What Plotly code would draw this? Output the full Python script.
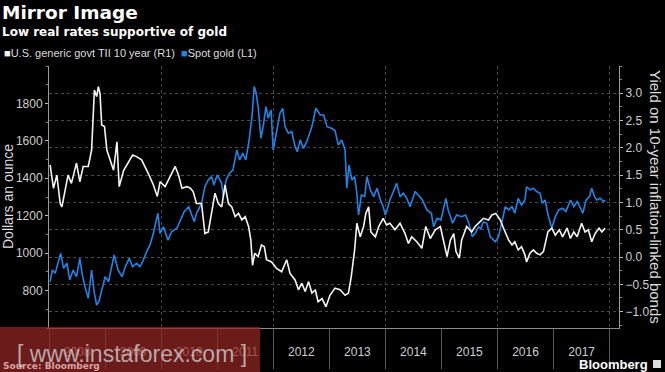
import pandas as pd
import plotly.graph_objects as go

# ---- data (decimal years) ----
gold_t = [2008.02, 2008.06, 2008.11, 2008.17, 2008.21, 2008.26, 2008.32, 2008.37, 2008.43, 2008.49,
          2008.55, 2008.59, 2008.64, 2008.70, 2008.76, 2008.81, 2008.85, 2008.89, 2008.94, 2009.00,
          2009.06, 2009.12, 2009.16, 2009.23, 2009.30, 2009.36, 2009.43, 2009.49, 2009.56, 2009.62,
          2009.68, 2009.74, 2009.80, 2009.86, 2009.94, 2009.98, 2010.04, 2010.12, 2010.19, 2010.28,
          2010.34, 2010.41, 2010.49, 2010.55, 2010.59, 2010.63, 2010.72, 2010.78, 2010.84, 2010.90,
          2010.94, 2011.00, 2011.08, 2011.11, 2011.16, 2011.22, 2011.28, 2011.35, 2011.40, 2011.46,
          2011.51, 2011.57, 2011.62, 2011.66, 2011.69, 2011.73, 2011.78, 2011.82, 2011.87, 2011.91,
          2011.96, 2012.00, 2012.06, 2012.12, 2012.17, 2012.21, 2012.27, 2012.33, 2012.39, 2012.43,
          2012.48, 2012.54, 2012.61, 2012.69, 2012.76, 2012.84, 2012.90, 2012.96, 2013.04, 2013.10,
          2013.16, 2013.22, 2013.28, 2013.31, 2013.35, 2013.40, 2013.45, 2013.49, 2013.52, 2013.57,
          2013.63, 2013.67, 2013.73, 2013.79, 2013.85, 2013.91, 2013.96, 2014.00, 2014.08, 2014.16,
          2014.20, 2014.26, 2014.32, 2014.38, 2014.44, 2014.53, 2014.60, 2014.66, 2014.74, 2014.82,
          2014.86, 2014.92, 2014.99, 2015.08, 2015.12, 2015.20, 2015.27, 2015.36, 2015.43, 2015.49,
          2015.55, 2015.61, 2015.66, 2015.70, 2015.75, 2015.81, 2015.87, 2015.96, 2016.02, 2016.08,
          2016.14, 2016.20, 2016.26, 2016.31, 2016.37, 2016.43, 2016.49, 2016.52, 2016.58, 2016.64,
          2016.70, 2016.76, 2016.80, 2016.85, 2016.91, 2016.97, 2017.03, 2017.09, 2017.16, 2017.22,
          2017.30, 2017.36, 2017.42, 2017.48, 2017.52, 2017.58, 2017.64, 2017.68, 2017.73, 2017.77,
          2017.83, 2017.89, 2017.92]
gold_v = [847, 910, 892, 963, 999, 919, 946, 857, 910, 874,
          972, 892, 821, 759, 910, 785, 723, 741, 803, 874,
          847, 928, 990, 910, 874, 928, 972, 928, 946, 928,
          963, 1008, 1044, 1106, 1213, 1106, 1141, 1070, 1115, 1133,
          1177, 1222, 1248, 1195, 1168, 1213, 1266, 1355, 1391, 1409,
          1364, 1418, 1373, 1302, 1391, 1427, 1444, 1551, 1498, 1534,
          1498, 1605, 1729, 1890, 1863, 1783, 1614, 1676, 1783, 1721,
          1765, 1551, 1641, 1748, 1774, 1676, 1641, 1650, 1569, 1542,
          1605, 1560, 1605, 1676, 1774, 1738, 1738, 1676, 1667, 1655,
          1578, 1605, 1551, 1347, 1471, 1391, 1409, 1320, 1204, 1311,
          1302, 1409, 1338, 1302, 1347, 1284, 1248, 1204, 1284, 1338,
          1373, 1302, 1320, 1293, 1248, 1329, 1302, 1284, 1231, 1213,
          1141, 1186, 1177, 1293, 1231, 1160, 1204, 1195, 1204, 1160,
          1088, 1110, 1141, 1130, 1168, 1160, 1088, 1061, 1088, 1160,
          1248, 1231, 1248, 1213, 1293, 1257, 1284, 1355, 1338, 1347,
          1329, 1320, 1266, 1284, 1195, 1133, 1195, 1231, 1240, 1222,
          1284, 1248, 1275, 1240, 1213, 1284, 1302, 1347, 1302, 1284,
          1293, 1275, 1284]

tips_t = [2008.02, 2008.08, 2008.14, 2008.20, 2008.23, 2008.29, 2008.34, 2008.40, 2008.49, 2008.55,
          2008.61, 2008.70, 2008.76, 2008.81, 2008.85, 2008.88, 2008.91, 2008.94, 2008.99, 2009.03,
          2009.09, 2009.15, 2009.21, 2009.25, 2009.33, 2009.41, 2009.49, 2009.56, 2009.65, 2009.77,
          2009.86, 2009.93, 2009.98, 2010.07, 2010.16, 2010.25, 2010.31, 2010.37, 2010.46, 2010.52,
          2010.57, 2010.63, 2010.72, 2010.78, 2010.84, 2010.90, 2010.96, 2011.02, 2011.08, 2011.14,
          2011.20, 2011.26, 2011.32, 2011.38, 2011.44, 2011.50, 2011.56, 2011.60, 2011.63, 2011.67,
          2011.73, 2011.79, 2011.84, 2011.88, 2011.97, 2012.06, 2012.15, 2012.24, 2012.30, 2012.39,
          2012.45, 2012.51, 2012.57, 2012.63, 2012.69, 2012.75, 2012.80, 2012.87, 2012.94, 2013.01,
          2013.10, 2013.19, 2013.28, 2013.34, 2013.39, 2013.45, 2013.49, 2013.55, 2013.61, 2013.65,
          2013.70, 2013.74, 2013.82, 2013.88, 2013.96, 2014.02, 2014.08, 2014.17, 2014.26, 2014.35,
          2014.41, 2014.47, 2014.56, 2014.65, 2014.72, 2014.80, 2014.89, 2014.98, 2015.04, 2015.10,
          2015.16, 2015.22, 2015.26, 2015.32, 2015.36, 2015.45, 2015.54, 2015.60, 2015.69, 2015.75,
          2015.84, 2015.90, 2015.97, 2016.05, 2016.12, 2016.20, 2016.26, 2016.31, 2016.37, 2016.43,
          2016.49, 2016.52, 2016.58, 2016.64, 2016.70, 2016.76, 2016.82, 2016.86, 2016.90, 2016.97,
          2017.03, 2017.10, 2017.16, 2017.24, 2017.30, 2017.36, 2017.42, 2017.50, 2017.56, 2017.62,
          2017.68, 2017.74, 2017.81, 2017.86, 2017.92]
tips_v = [1.69, 1.26, 1.50, 0.98, 0.92, 1.23, 1.50, 1.35, 1.72, 1.38,
          1.66, 1.66, 1.96, 3.06, 2.94, 3.12, 3.00, 2.42, 2.39, 1.96,
          1.78, 1.59, 2.11, 1.29, 1.59, 1.72, 1.87, 1.84, 1.78, 1.53,
          1.32, 1.11, 1.38, 1.29, 1.47, 1.66, 1.50, 1.26, 1.29, 1.26,
          1.20, 0.98, 0.98, 0.43, 0.46, 0.80, 1.17, 0.98, 0.92, 1.32,
          0.98, 0.92, 0.74, 0.80, 0.68, 0.74, 0.56, 0.31, -0.15, 0.07,
          0.01, 0.22, 0.19, -0.05, -0.09, -0.21, -0.27, -0.05, -0.30, -0.42,
          -0.60, -0.48, -0.63, -0.45, -0.66, -0.60, -0.82, -0.76, -0.91, -0.70,
          -0.57, -0.60, -0.70, -0.66, -0.36, 0.13, 0.62, 0.37, 0.56, 0.80,
          0.92, 0.46, 0.37, 0.56, 0.71, 0.59, 0.62, 0.50, 0.62, 0.43,
          0.25, 0.37, 0.28, 0.16, 0.56, 0.34, 0.50, 0.56, 0.31, 0.01,
          0.31, 0.43, 0.10, -0.02, 0.31, 0.56, 0.46, 0.56, 0.65, 0.71,
          0.68, 0.77, 0.80, 0.68, 0.50, 0.31, 0.22, 0.28, 0.13, 0.19,
          0.04, -0.09, 0.07, 0.13, 0.07, 0.04, 0.10, 0.31, 0.46, 0.53,
          0.40, 0.50, 0.37, 0.53, 0.34, 0.46, 0.37, 0.62, 0.46, 0.50,
          0.28, 0.43, 0.53, 0.46, 0.53]

gold_ticks = [800, 1000, 1200, 1400, 1600, 1800]
yield_ticks = [-1.0, -0.5, 0.0, 0.5, 1.0, 1.5, 2.0, 2.5, 3.0]


def to_date(v):
    y = int(v)
    return pd.Timestamp(f"{y}-01-01") + pd.Timedelta(days=(v - y) * 365.25)


gold_x = [to_date(v) for v in gold_t]
tips_x = [to_date(v) for v in tips_t]

W, H = 665, 372
L, R, T, B = 49, 619, 66, 328
PW, PH = R - L, B - T


def px(x):
    return (x - L) / PW


def py(y):
    return (B - y) / PH


BLUE = "#2083e6"
WHITE = "#f4f4f4"
TICKC = "#cfcfcf"
SANS = "Liberation Sans, Arial, sans-serif"

fig = go.Figure()
fig.add_trace(go.Scatter(x=gold_x, y=gold_v, mode="lines", name="Spot gold (L1)",
                         line=dict(color=BLUE, width=1.6), yaxis="y"))
fig.add_trace(go.Scatter(x=tips_x, y=tips_v, mode="lines", name="U.S. generic govt TII 10 year (R1)",
                         line=dict(color=WHITE, width=1.6), yaxis="y2"))
fig.add_trace(go.Scatter(x=[], y=[], xaxis="x2", yaxis="y2", showlegend=False))

xr = ["2008-01-01", "2018-03-03"]

fig.update_layout(
    width=W, height=H, autosize=False,
    margin=dict(l=L, r=W - R, t=T, b=H - B, pad=0),
    paper_bgcolor="#000000", plot_bgcolor="#000000",
    showlegend=False,
    font=dict(family=SANS, color=TICKC, size=12),
    xaxis=dict(type="date", range=xr, showgrid=False, zeroline=False, automargin=False,
               showline=True, linecolor="#8a8a8a", linewidth=1,
               ticks="outside", ticklen=40, tickcolor="#5a5a5a", tickwidth=1,
               dtick="M12", tick0="2008-01-01", tickformat="%Y",
               ticklabelmode="period", ticklabelstandoff=-27,
               tickfont=dict(family=SANS, size=12, color=TICKC)),
    xaxis2=dict(type="date", range=xr, overlaying="x", showgrid=True, automargin=False,
                gridcolor="#4a4a4a", griddash="dot", gridwidth=1,
                dtick="M24", tick0="2010-01-01", showticklabels=False,
                ticks="", showline=False, zeroline=False),
    yaxis=dict(range=[600, 2000], side="left", showgrid=False, zeroline=False, automargin=False,
               showline=True, linecolor="#9a9a9a", linewidth=1,
               ticks="outside", ticklen=3, tickcolor="#bbbbbb",
               tickvals=gold_ticks, tickfont=dict(family=SANS, size=12, color=TICKC),
               minor=dict(dtick=100, tick0=0, ticks="outside", ticklen=2,
                          tickcolor="#888888", showgrid=False)),
    yaxis2=dict(range=[-1.3, 3.5], overlaying="y", side="right", showgrid=True, automargin=False,
                gridcolor="#4a4a4a", griddash="dot", gridwidth=1, zeroline=False,
                showline=True, linecolor="#9a9a9a", linewidth=1,
                ticks="outside", ticklen=3, tickcolor="#bbbbbb",
                tickvals=yield_ticks, tickformat=".1f",
                tickfont=dict(family=SANS, size=12, color=TICKC),
                minor=dict(dtick=0.25, tick0=0, ticks="outside", ticklen=2,
                           tickcolor="#888888", showgrid=False)),
)

ann = []
ann.append(dict(text="<b>Mirror Image</b>", x=px(0), y=py(13), xref="paper", yref="paper",
                xanchor="left", yanchor="middle", showarrow=False,
                font=dict(family="DejaVu Sans", size=18.5, color="#ffffff")))
ann.append(dict(text="<b>Low real rates supportive of gold</b>", x=px(0), y=py(32),
                xref="paper", yref="paper", xanchor="left", yanchor="middle", showarrow=False,
                font=dict(family="DejaVu Sans", size=12, color="#ffffff")))
ann.append(dict(text=f'<span style="color:{WHITE}">■</span>U.S. generic govt TII 10 year (R1)  '
                     f'<span style="color:{BLUE}">■</span>Spot gold (L1)',
                x=px(2), y=py(53), xref="paper", yref="paper", xanchor="left", yanchor="middle",
                showarrow=False, font=dict(family=SANS, size=11, color="#dddddd")))
ann.append(dict(text="Dollars an ounce", x=px(8), y=py(197), xref="paper", yref="paper",
                xanchor="center", yanchor="middle", textangle=-90, showarrow=False,
                font=dict(family=SANS, size=14, color="#dddddd")))
ann.append(dict(text="Yield on 10-year inflation-linked bonds", x=px(656), y=py(197),
                xref="paper", yref="paper", xanchor="center", yanchor="middle", textangle=90,
                showarrow=False, font=dict(family=SANS, size=15, color="#dddddd")))
ann.append(dict(text="<b>Source: Bloomberg</b>", x=px(1), y=py(366), xref="paper", yref="paper",
                xanchor="left", yanchor="middle", showarrow=False,
                font=dict(family="DejaVu Sans", size=9, color="#d8a4a4")))
ann.append(dict(text="<b>Bloomberg</b>", x=px(650), y=py(364), xref="paper", yref="paper",
                xanchor="right", yanchor="middle", showarrow=False,
                font=dict(family=SANS, size=13, color="#ffffff")))
ann.append(dict(text="[ www.instaforex.com ]", x=px(132), y=py(354), xref="paper", yref="paper",
                xanchor="center", yanchor="middle", showarrow=False,
                font=dict(family=SANS, size=23, color="rgba(205,205,205,0.8)")))
fig.update_layout(annotations=ann)

fig.update_layout(shapes=[dict(type="rect", xref="paper", yref="paper",
                               x0=px(0), x1=px(260), y0=py(327), y1=py(372),
                               fillcolor="rgba(150,38,38,0.72)", line=dict(width=0),
                               layer="above"),
                          dict(type="rect", xref="paper", yref="paper",
                               x0=px(653), x1=px(661), y0=py(360), y1=py(368),
                               fillcolor="#dddddd", line=dict(width=0), layer="above")])

fig.write_html("out.html", config={"displayModeBar": False},
               post_script="document.body.style.margin='0px';document.body.style.padding='0px';"
                           "document.body.style.background='#000';")
